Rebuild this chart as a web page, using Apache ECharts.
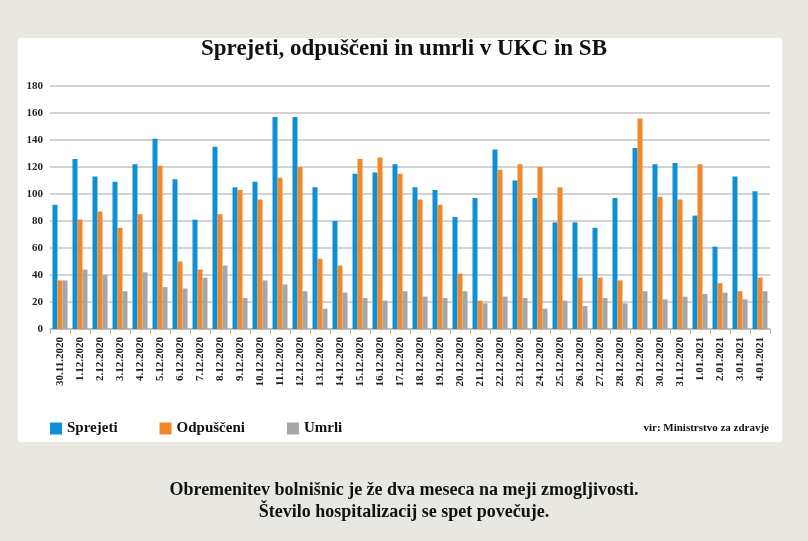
<!DOCTYPE html>
<html>
<head>
<meta charset="utf-8">
<script src="https://cdn.jsdelivr.net/npm/echarts@6/dist/echarts.min.js"></script>
<style>
  html, body { margin: 0; padding: 0; background: #e8e7e2; }
  #wrap { position: relative; width: 808px; height: 541px; background: #e8e7e2; overflow: hidden; }
  #panel { position: absolute; left: 18px; top: 38px; width: 764px; height: 404px; background: #ffffff; }
  #chart { position: absolute; left: 0; top: 0; width: 808px; height: 541px; }
</style>
</head>
<body>
<div id="wrap">
  <div id="panel"></div>
  <div id="chart"></div>
</div>
<script>
const categories = ['30.11.2020','1.12.2020','2.12.2020','3.12.2020','4.12.2020','5.12.2020','6.12.2020','7.12.2020','8.12.2020','9.12.2020','10.12.2020','11.12.2020','12.12.2020','13.12.2020','14.12.2020','15.12.2020','16.12.2020','17.12.2020','18.12.2020','19.12.2020','20.12.2020','21.12.2020','22.12.2020','23.12.2020','24.12.2020','25.12.2020','26.12.2020','27.12.2020','28.12.2020','29.12.2020','30.12.2020','31.12.2020','1.01.2021','2.01.2021','3.01.2021','4.01.2021'];
const sprejeti = [92,126,113,109,122,141,111,81,135,105,109,157,157,105,80,115,116,122,105,103,83,97,133,110,97,79,79,75,97,134,122,123,84,61,113,102];
const odpusceni = [36,81,87,75,85,121,50,44,85,103,96,112,120,52,47,126,127,115,96,92,41,21,118,122,120,105,38,38,36,156,98,96,122,34,28,38];
const umrli = [36,44,40,28,42,31,30,38,47,23,36,33,28,15,27,23,21,28,24,23,28,19,24,23,15,21,17,23,19,28,22,24,26,27,22,28];
const yTicks = [0,20,40,60,80,100,120,140,160,180];

const serif = '"Liberation Serif", "DejaVu Serif", serif';
const chart = echarts.init(document.getElementById('chart'), null, { renderer: 'canvas' });
chart.setOption({
  animation: false,
  backgroundColor: 'transparent',
  color: ['#0f8fd5', '#f0882a', '#a6a6a8'],
  title: [
    { text: 'Sprejeti, odpuščeni in umrli v UKC in SB', left: 'center', top: 33,
      textStyle: { fontFamily: serif, fontWeight: 'bold', fontSize: 23, color: '#111' } },
    { text: 'vir: Ministrstvo za zdravje', right: 34, top: 418,
      textStyle: { fontFamily: serif, fontWeight: 'bold', fontSize: 11, color: '#111' } },
    { text: 'Obremenitev bolnišnic je že dva meseca na meji zmogljivosti.', left: 'center', top: 476,
      textStyle: { fontFamily: serif, fontWeight: 'bold', fontSize: 18, color: '#111' } },
    { text: 'Število hospitalizacij se spet povečuje.', left: 'center', top: 498,
      textStyle: { fontFamily: serif, fontWeight: 'bold', fontSize: 18, color: '#111' } }
  ],
  legend: {
    left: 45, top: 416, itemWidth: 12, itemHeight: 12, itemGap: 42, icon: 'rect',
    textStyle: { fontFamily: serif, fontWeight: 'bold', fontSize: 15, color: '#111' },
    data: ['Sprejeti', 'Odpuščeni', 'Umrli']
  },
  grid: { left: 50, right: 38, top: 86, bottom: 212, containLabel: false },
  xAxis: {
    type: 'category', data: categories,
    axisLine: { lineStyle: { color: '#b5b5b5', width: 1.5 } },
    axisTick: { show: true, length: 5, lineStyle: { color: '#b5b5b5' } },
    axisLabel: { rotate: 90, interval: 0, margin: 8, fontFamily: serif, fontWeight: 'bold', fontSize: 11, color: '#222' }
  },
  yAxis: {
    type: 'value', min: yTicks[0], max: yTicks[yTicks.length - 1], interval: yTicks[1] - yTicks[0],
    axisLine: { show: false }, axisTick: { show: false },
    splitLine: { lineStyle: { color: '#c4c4c4', width: 1.5 } },
    axisLabel: { margin: 7, fontFamily: serif, fontWeight: 'bold', fontSize: 11, color: '#222' }
  },
  series: [
    { name: 'Sprejeti', type: 'bar', data: sprejeti, barWidth: 5, barGap: '0%' },
    { name: 'Odpuščeni', type: 'bar', data: odpusceni, barWidth: 5, barGap: '0%' },
    { name: 'Umrli', type: 'bar', data: umrli, barWidth: 5, barGap: '0%' }
  ]
});
</script>
</body>
</html>
